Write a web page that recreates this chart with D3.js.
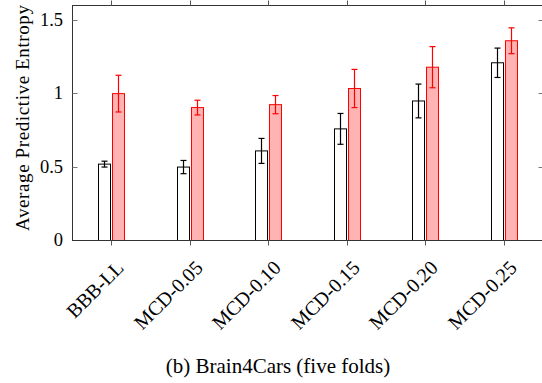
<!DOCTYPE html>
<html>
<head>
<meta charset="utf-8">
<script src="https://cdn.jsdelivr.net/npm/d3@7"></script>
<style>
  body { margin: 0; background: #fff; }
  svg { display: block; }
</style>
</head>
<body>
<div id="main"></div>
<script>
// chart values
var models = ["BBB-LL", "MCD-0.05", "MCD-0.10", "MCD-0.15", "MCD-0.20", "MCD-0.25"];
var series = ["black", "red"];
var blackMean = [0.52, 0.50, 0.61, 0.76, 0.95, 1.21];
var blackErr = [0.02, 0.045, 0.085, 0.105, 0.115, 0.10];
var redMean = [1.00, 0.905, 0.925, 1.035, 1.18, 1.36];
var redErr = [0.125, 0.05, 0.062, 0.13, 0.14, 0.088];
var yTicks = [0, 0.5, 1, 1.5];
var yTickLabels = ["0", "0.5", "1", "1.5"];

var FONT = "'Liberation Serif', 'DejaVu Serif', serif";

var ctx = {
    w: 542,
    h: 383,
    left: 72,
    right: 543,
    top: 5,
    bottom: 240,
};

var styles = {
    black: { stroke: "#000", fill: "#fff" },
    red: { stroke: "#ff0000", fill: "#ffb3b3" },
};

var createViz = function () {
    var svg = d3.select("#main").append("svg")
        .attr("width", ctx.w)
        .attr("height", ctx.h)
        .style("font-family", FONT);

    var x = d3.scaleBand().domain(models).range([ctx.left, ctx.right]);
    var inner = d3.scaleBand().domain(series).range([-13, 13]).paddingInner(1 / 7);
    var y = d3.scaleLinear().domain([0, 1.6]).range([ctx.bottom, ctx.top]);

    var rows = [];
    models.forEach(function (m, i) {
        rows.push({ model: m, s: "black", v: blackMean[i], e: blackErr[i] });
        rows.push({ model: m, s: "red", v: redMean[i], e: redErr[i] });
    });

    var plot = svg.append("g").attr("transform", "translate(0.5,0.5)");

    // bars
    plot.selectAll("rect.bar")
        .data(rows)
        .enter()
        .append("rect")
        .attr("class", "bar")
        .attr("x", function (d) { return Math.round(x(d.model) + x.bandwidth() / 2 + inner(d.s)); })
        .attr("y", function (d) { return y(d.v); })
        .attr("width", Math.round(inner.bandwidth()))
        .attr("height", function (d) { return ctx.bottom - y(d.v); })
        .attr("fill", function (d) { return styles[d.s].fill; })
        .attr("stroke", function (d) { return styles[d.s].stroke; })
        .attr("stroke-width", 1);

    // error bars
    var eb = plot.selectAll("g.err")
        .data(rows)
        .enter()
        .append("g")
        .attr("class", "err")
        .attr("stroke", function (d) { return styles[d.s].stroke; })
        .attr("stroke-width", 1.2);
    var cx = function (d) {
        return Math.round(x(d.model) + x.bandwidth() / 2 + inner(d.s) + inner.bandwidth() / 2);
    };
    eb.append("line")
        .attr("x1", cx).attr("x2", cx)
        .attr("y1", function (d) { return y(d.v + d.e); })
        .attr("y2", function (d) { return y(d.v - d.e); });
    eb.append("line")
        .attr("x1", function (d) { return cx(d) - 3; })
        .attr("x2", function (d) { return cx(d) + 3; })
        .attr("y1", function (d) { return y(d.v + d.e); })
        .attr("y2", function (d) { return y(d.v + d.e); });
    eb.append("line")
        .attr("x1", function (d) { return cx(d) - 3; })
        .attr("x2", function (d) { return cx(d) + 3; })
        .attr("y1", function (d) { return y(d.v - d.e); })
        .attr("y2", function (d) { return y(d.v - d.e); });

    // frame
    plot.append("rect")
        .attr("x", ctx.left)
        .attr("y", ctx.top)
        .attr("width", ctx.right - ctx.left)
        .attr("height", ctx.bottom - ctx.top)
        .attr("fill", "none")
        .attr("stroke", "#333")
        .attr("stroke-width", 1);

    // x ticks (outside, top and bottom)
    var xt = function (d) { return Math.round(x(d) + x.bandwidth() / 2); };
    plot.selectAll("line.xtb")
        .data(models)
        .enter()
        .append("line")
        .attr("x1", xt).attr("x2", xt)
        .attr("y1", ctx.bottom).attr("y2", ctx.bottom + 5)
        .attr("stroke", "#555");
    plot.selectAll("line.xtt")
        .data(models)
        .enter()
        .append("line")
        .attr("x1", xt).attr("x2", xt)
        .attr("y1", ctx.top).attr("y2", ctx.top - 5)
        .attr("stroke", "#555");

    // y ticks (inside, left and right)
    plot.selectAll("line.ytl")
        .data(yTicks.slice(1))
        .enter()
        .append("line")
        .attr("x1", ctx.left).attr("x2", ctx.left + 5)
        .attr("y1", function (d) { return Math.round(y(d)); })
        .attr("y2", function (d) { return Math.round(y(d)); })
        .attr("stroke", "#777");
    plot.selectAll("line.ytr")
        .data(yTicks.slice(1))
        .enter()
        .append("line")
        .attr("x1", ctx.right - 5).attr("x2", ctx.right)
        .attr("y1", function (d) { return Math.round(y(d)); })
        .attr("y2", function (d) { return Math.round(y(d)); })
        .attr("stroke", "#777");

    // y tick labels
    svg.selectAll("text.ylab")
        .data(yTicks)
        .enter()
        .append("text")
        .attr("font-family", FONT)
        .attr("x", ctx.left - 9)
        .attr("y", function (d) { return y(d) + 6; })
        .attr("text-anchor", "end")
        .attr("font-size", 18.5)
        .text(function (d, i) { return yTickLabels[i]; });

    // x tick labels, rotated
    svg.selectAll("text.xlab")
        .data(models)
        .enter()
        .append("text")
        .attr("font-family", FONT)
        .attr("text-anchor", "end")
        .attr("font-size", 20)
        .attr("transform", function (d) {
            return "translate(" + (xt(d) + 14) + "," + (ctx.bottom + 29) + ")rotate(-45)";
        })
        .text(function (d) { return d; });

    // y axis title
    svg.append("text")
        .attr("font-family", FONT)
        .attr("transform", "translate(29," + ((ctx.top + 231) / 2) + ")rotate(-90)")
        .attr("text-anchor", "middle")
        .attr("font-size", 19)
        .attr("textLength", 226)
        .attr("lengthAdjust", "spacing")
        .text("Average Predictive Entropy");

    // caption
    svg.append("text")
        .attr("font-family", FONT)
        .attr("x", 278)
        .attr("y", 373)
        .attr("text-anchor", "middle")
        .attr("font-size", 21)
        .text("(b) Brain4Cars (five folds)");
};

createViz();
</script>
</body>
</html>
